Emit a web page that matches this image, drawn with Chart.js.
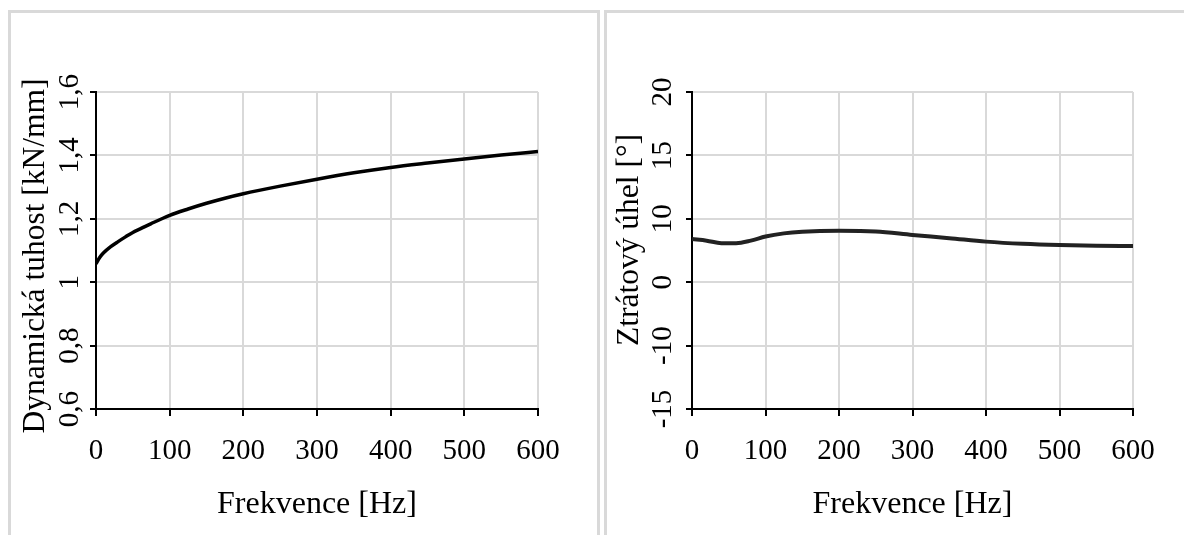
<!DOCTYPE html>
<html>
<head>
<meta charset="utf-8">
<script src="https://cdn.jsdelivr.net/npm/chart.js"></script>
<style>
  html, body { margin: 0; padding: 0; background: #fff; }
  body { width: 1184px; height: 535px; position: relative; overflow: hidden; }
  .panel { position: absolute; top: 10px; height: 600px; border: 3px solid #d9d9d9; border-bottom: none; box-sizing: border-box; }
  #panelLeft { left: 8px; width: 592px; }
  #panelRight { left: 604px; width: 620px; border-right: none; }
  canvas { position: absolute; top: 0; }
</style>
</head>
<body>
<div class="panel" id="panelLeft"></div>
<div class="panel" id="panelRight"></div>
<canvas id="stiffness" width="600" height="535" style="left:0"></canvas>
<canvas id="lossAngle" width="584" height="535" style="left:600px"></canvas>

<script>
// --- data ---
const freqTicks = [0, 100, 200, 300, 400, 500, 600];
const freqTickLabels = ['0', '100', '200', '300', '400', '500', '600'];

// left chart: dynamic stiffness [kN/mm]
const stiffFreq = [0, 5, 10, 20, 30, 40, 50, 60, 75, 100, 125, 150, 175, 200, 250, 300, 350, 400, 450, 500, 550, 600];
const stiffValues = [1.058, 1.078, 1.092, 1.112, 1.128, 1.143, 1.157, 1.168, 1.185, 1.211, 1.231, 1.249, 1.265, 1.279, 1.303, 1.325, 1.345, 1.362, 1.376, 1.389, 1.401, 1.412];
const stiffTicks = [0.6, 0.8, 1.0, 1.2, 1.4, 1.6];
const stiffTickLabels = ['0,6', '0,8', '1', '1,2', '1,4', '1,6'];

// right chart: loss angle [°]
const angleFreq = [0, 20, 40, 60, 80, 100, 125, 150, 200, 250, 300, 350, 400, 450, 500, 550, 600];
const angleValues = [6.8, 6.55, 6.15, 6.15, 6.55, 7.2, 7.7, 7.95, 8.1, 8.0, 7.45, 6.95, 6.4, 6.05, 5.85, 5.75, 5.7];
const angleTicks = [-15, -10, 0, 10, 15, 20];
const angleTickLabels = ['-15', '-10', '0', '10', '15', '20'];

const FONT = '"Liberation Serif", "Times New Roman", serif';

// the right axis has evenly spaced gridlines with uneven labels,
// so map values piecewise between the tick stops
const LinearScale = Chart.registry.getScale('linear');
class StopScale extends LinearScale {
  buildTicks() {
    this.start = this.min;
    this.end = this.max;
    return angleTicks.map(v => ({ value: v }));
  }
  getPixelForValue(value) {
    const s = angleTicks, n = s.length - 1;
    let i = 0;
    while (i < n - 1 && value > s[i + 1]) i++;
    const f = (i + (value - s[i]) / (s[i + 1] - s[i])) / n;
    return this.getPixelForDecimal(f);
  }
  getValueForPixel(pixel) {
    const s = angleTicks, n = s.length - 1;
    const d = this.getDecimalForPixel(pixel) * n;
    const i = Math.min(n - 1, Math.max(0, Math.floor(d)));
    return s[i] + (d - i) * (s[i + 1] - s[i]);
  }
}
StopScale.id = 'stops';
StopScale.defaults = LinearScale.defaults;
Chart.register(StopScale);

// vertical axis title drawn by hand so it is not squeezed to the plot height
const yTitlePlugin = {
  id: 'yTitle',
  afterDraw(chart, args, opts) {
    const ctx = chart.ctx;
    ctx.save();
    ctx.translate(opts.x, opts.y);
    ctx.rotate(-Math.PI / 2);
    ctx.font = '31.5px ' + FONT;
    ctx.fillStyle = '#000';
    ctx.textAlign = 'center';
    ctx.textBaseline = 'middle';
    ctx.fillText(opts.text, 0, 0);
    ctx.restore();
  }
};

function makeChart(id, xs, ys, opts) {
  const points = xs.map((x, i) => ({ x: x, y: ys[i] }));
  return new Chart(document.getElementById(id), {
    type: 'line',
    data: {
      datasets: [{
        data: points,
        borderColor: opts.lineColor,
        borderWidth: opts.lineWidth,
        pointRadius: 0,
        fill: false,
        cubicInterpolationMode: 'monotone'
      }]
    },
    options: {
      responsive: false,
      animation: false,
      devicePixelRatio: 1,
      layout: { padding: { top: 92, right: opts.padRight, bottom: 0, left: 0 } },
      plugins: {
        legend: { display: false },
        tooltip: { enabled: false },
        yTitle: { text: opts.yTitle, x: opts.titleX, y: opts.titleY }
      },
      scales: {
        x: {
          type: 'linear',
          min: 0, max: 600,
          afterBuildTicks: s => { s.ticks = freqTicks.map(v => ({ value: v })); },
          afterFit: s => { s.height = 126; },
          grid: { color: '#d9d9d9', lineWidth: 2, tickColor: '#000', tickWidth: 2, tickLength: 7 },
          border: { color: '#000', width: 2 },
          ticks: {
            maxRotation: 0, minRotation: 0, padding: 18, color: '#000',
            font: { family: FONT, size: 29 },
            callback: (v, i) => freqTickLabels[i]
          },
          title: {
            display: true, text: 'Frekvence [Hz]', color: '#000',
            font: { family: FONT, size: 32 }, padding: { top: 0, bottom: 11 }
          }
        },
        y: Object.assign({
          afterFit: s => { s.width = opts.axisWidth; },
          grid: { color: '#d9d9d9', lineWidth: 2, tickColor: '#000', tickWidth: 2, tickLength: 6 },
          border: { color: '#000', width: 2 },
          ticks: {
            minRotation: 90, maxRotation: 90, crossAlign: 'center', padding: opts.tickPad, color: '#000',
            font: { family: FONT, size: 29 },
            callback: (v, i) => opts.yLabels[i]
          }
        }, opts.yScale)
      }
    },
    plugins: [yTitlePlugin]
  });
}

makeChart('stiffness', stiffFreq, stiffValues, {
  lineColor: '#000', lineWidth: 3.5,
  padRight: 62, axisWidth: 96, tickPad: 1,
  yLabels: stiffTickLabels,
  yTitle: 'Dynamická tuhost [kN/mm]', titleX: 36, titleY: 256,
  yScale: {
    type: 'linear', min: 0.6, max: 1.6,
    afterBuildTicks: s => { s.ticks = stiffTicks.map(v => ({ value: v })); }
  }
});

makeChart('lossAngle', angleFreq, angleValues, {
  lineColor: '#222', lineWidth: 4,
  padRight: 51, axisWidth: 92, tickPad: 3,
  yLabels: angleTickLabels,
  yTitle: 'Ztrátový úhel [°]', titleX: 30, titleY: 240,
  yScale: { type: 'stops', min: -15, max: 20 }
});
</script>
</body>
</html>
